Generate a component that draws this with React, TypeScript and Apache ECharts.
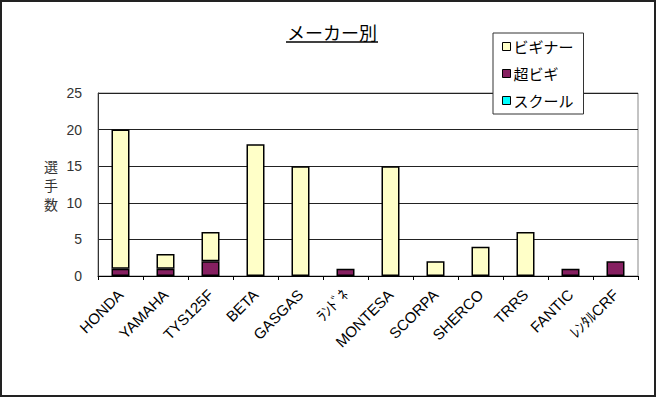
import React, { useEffect, useRef } from "react";
import * as echarts from "echarts";

const categories = ["HONDA", "YAMAHA", "TYS125F", "BETA", "GASGAS", "ﾗﾝﾄﾞﾈ", "MONTESA", "SCORPA", "SHERCO", "TRRS", "FANTIC", "ﾚﾝﾀﾙCRF"];
const superBeginner = [1, 1, 2, 0, 0, 1, 0, 0, 0, 0, 1, 2];
const beginner = [19, 2, 4, 18, 15, 0, 15, 2, 4, 6, 0, 0];
const school = [0, 0, 0, 0, 0, 0, 0, 0, 0, 0, 0, 0];
const yTicks = { min: 0, max: 25, interval: 5 };

const JP = "'Noto Sans CJK JP', sans-serif";
const LAT = "'Liberation Sans', 'Noto Sans CJK JP', sans-serif";

const nz = (arr: number[]) => arr.map((v) => (v === 0 ? "-" : v));

export default function App() {
  const ref = useRef<HTMLDivElement>(null);
  useEffect(() => {
    document.body.style.margin = "0";
    const chart = echarts.init(ref.current!, undefined, { renderer: "svg" });
    chart.setOption({
      animation: false,
      backgroundColor: "#fff",
      graphic: [
        { type: "rect", shape: { x: 1, y: 1, width: 654, height: 395 }, style: { fill: "none", stroke: "#222", lineWidth: 2 }, z: 100 },
        { type: "text", x: 332, y: 23, style: { text: "メーカー別", font: "18px " + JP, fill: "#000", textAlign: "center", textVerticalAlign: "top" } },
        { type: "line", shape: { x1: 286, y1: 42, x2: 378, y2: 42 }, style: { stroke: "#000", lineWidth: 1.5 } },
      ],
      legend: {
        data: ["ビギナー", "超ビギ", "スクール"],
        orient: "vertical",
        left: 493,
        top: 33,
        width: 98,
        padding: [6, 10, 6, 9],
        itemWidth: 8,
        itemHeight: 8,
        itemGap: 12,
        borderColor: "#333",
        borderWidth: 1,
        backgroundColor: "#fff",
        icon: "rect",
        itemStyle: { borderColor: "#000", borderWidth: 1 },
        textStyle: { fontFamily: JP, fontSize: 15, color: "#000", padding: [0, 0, 0, -2] },
        z: 10,
      },
      grid: { left: 98, right: 24, top: 93, bottom: 122, show: true, borderColor: "#888", borderWidth: 1 },
      xAxis: {
        type: "category",
        data: categories,
        axisLine: { lineStyle: { color: "#000", width: 1 } },
        axisTick: { show: true, length: 4, lineStyle: { color: "#000" } },
        axisLabel: { rotate: 45, fontFamily: LAT, fontSize: 15, color: "#000", margin: 16, interval: 0 },
      },
      yAxis: {
        type: "value",
        min: yTicks.min,
        max: yTicks.max,
        interval: yTicks.interval,
        name: "選\n手\n数",
        nameLocation: "middle",
        nameRotate: 0,
        nameGap: 40,
        nameTextStyle: { fontFamily: JP, fontSize: 14, color: "#333", lineHeight: 19 },
        axisLine: { show: true, lineStyle: { color: "#333" } },
        axisTick: { show: false },
        axisLabel: { fontFamily: LAT, fontSize: 14, color: "#333", margin: 16 },
        splitLine: { lineStyle: { color: "#222", width: 1 } },
      },
      series: [
        { name: "超ビギ", type: "bar", stack: "s", data: nz(superBeginner), barWidth: 18, itemStyle: { color: "#862061", borderColor: "#000", borderWidth: 1.5 } },
        { name: "ビギナー", type: "bar", stack: "s", data: nz(beginner), barWidth: 18, itemStyle: { color: "#FFFFC8", borderColor: "#000", borderWidth: 1.5 } },
        { name: "スクール", type: "bar", stack: "s", data: nz(school), barWidth: 18, itemStyle: { color: "#00FFFF", borderColor: "#000", borderWidth: 1.5 } },
      ],
    });
    return () => chart.dispose();
  }, []);
  return <div ref={ref} style={{ position: "absolute", left: 0, top: 0, width: 662, height: 398 }} />;
}
